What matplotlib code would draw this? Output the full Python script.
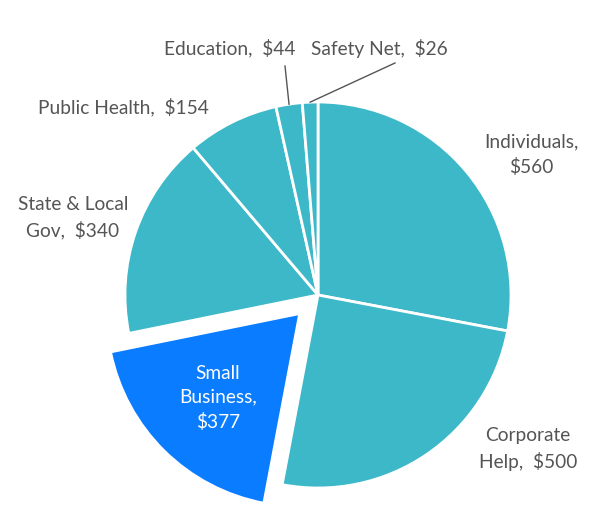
import numpy as np
import matplotlib
matplotlib.use('Agg')
import matplotlib.pyplot as plt

plt.rcParams['font.family'] = ['Lato', 'DejaVu Sans']

# Data
categories = ['Individuals', 'Corporate Help', 'Small Business', 'State & Local Gov',
              'Public Health', 'Education', 'Safety Net']
amounts = [560, 500, 377, 340, 154, 44, 26]
label_texts = ['Individuals,\n$560', 'Corporate\nHelp,  $500', 'Small\nBusiness,\n$377',
               'State & Local\nGov,  $340', 'Public Health,  $154',
               'Education,  $44', 'Safety Net,  $26']

teal = '#3db8c9'
blue = '#0a7cff'
cx, cy, r = 318, 230, 193
colors = [blue if c == 'Small Business' else teal for c in categories]
# matplotlib explode is in data units, not radius fractions
explode = [0.135 * r if c == 'Small Business' else 0 for c in categories]

fig = plt.figure(figsize=(6, 5.25), dpi=100)
ax = fig.add_axes([0, 0, 1, 1])

wedges, _ = ax.pie(amounts, colors=colors, explode=explode, startangle=90,
                   counterclock=False, center=(cx, cy), radius=r,
                   wedgeprops=dict(edgecolor='white', linewidth=2))
ax.set_xlim(0, 600)
ax.set_ylim(0, 525)
ax.set_aspect('equal')
ax.axis('off')

txt_color = '#555555'
fs = 13.8

# label positions (pixel coords, y up)
label_pos = {
    'Individuals': (531, 370),
    'Corporate Help': (528, 76),
    'Small Business': (218, 127),
    'State & Local Gov': (73, 307),
    'Public Health': (123, 418),
    'Education': (230, 477),
    'Safety Net': (379, 477),
}

for w, cat, lab in zip(wedges, categories, label_texts):
    x, y = label_pos[cat]
    col = 'white' if cat == 'Small Business' else txt_color
    if cat in ('Education', 'Safety Net'):
        ang = np.deg2rad((w.theta1 + w.theta2) / 2)
        px = cx + r * np.cos(ang)
        py = cy + r * np.sin(ang)
        if cat == 'Education':
            end = (285, 459)
        else:
            end = (395, 462)
        ax.plot([px, end[0]], [py, end[1]], color=txt_color, lw=1)
    ax.text(x, y, lab, ha='center', va='center', fontsize=fs, color=col,
            linespacing=1.5)

fig.savefig('out.png', dpi=100)
